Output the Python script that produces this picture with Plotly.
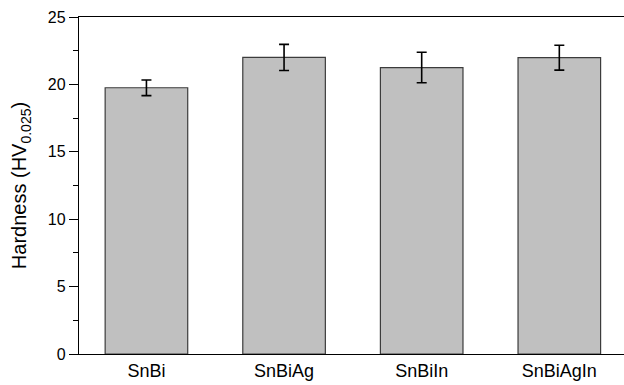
import plotly.graph_objects as go

categories = ["SnBi", "SnBiAg", "SnBiIn", "SnBiAgIn"]
hardness = [19.75, 22.0, 21.25, 21.98]
hardness_err = [0.58, 0.97, 1.13, 0.92]
y_ticks = [0, 5, 10, 15, 20, 25]

fig = go.Figure()
fig.add_trace(go.Bar(
    x=list(range(len(categories))),
    y=hardness,
    width=0.6,
    marker=dict(color="#c0c0c0", line=dict(color="#3c3c3c", width=1.2)),
    error_y=dict(type="data", array=hardness_err, visible=True,
                 color="black", thickness=1.6, width=5),
))

fig.update_layout(
    width=624, height=385,
    margin=dict(l=79, r=0, t=17, b=31, autoexpand=False),
    paper_bgcolor="white", plot_bgcolor="white",
    showlegend=False,
    font=dict(family="Arial, Liberation Sans, sans-serif", color="black"),
    xaxis=dict(
        range=[-0.49, 3.47],
        tickvals=list(range(len(categories))),
        ticktext=categories,
        ticks="", showgrid=False, zeroline=False,
        showline=True, linecolor="black", linewidth=1.3, mirror=True,
        tickfont=dict(size=18), automargin=False,
    ),
    yaxis=dict(
        range=[0, 25],
        tickvals=y_ticks,
        ticks="outside", ticklen=9, tickwidth=1.2, tickcolor="black",
        minor=dict(dtick=2.5, ticks="outside", ticklen=5, tickwidth=1.2, tickcolor="black"),
        showgrid=False, zeroline=False,
        showline=True, linecolor="black", linewidth=1.3, mirror=False,
        tickfont=dict(size=16), automargin=False,
        title=dict(text="Hardness (HV<sub>0.025</sub>)", font=dict(size=20), standoff=15),
    ),
)

fig.write_html(
    "out.html",
    config={"displayModeBar": False},
    post_script="document.body.style.margin='0';document.body.style.overflow='hidden';",
)
